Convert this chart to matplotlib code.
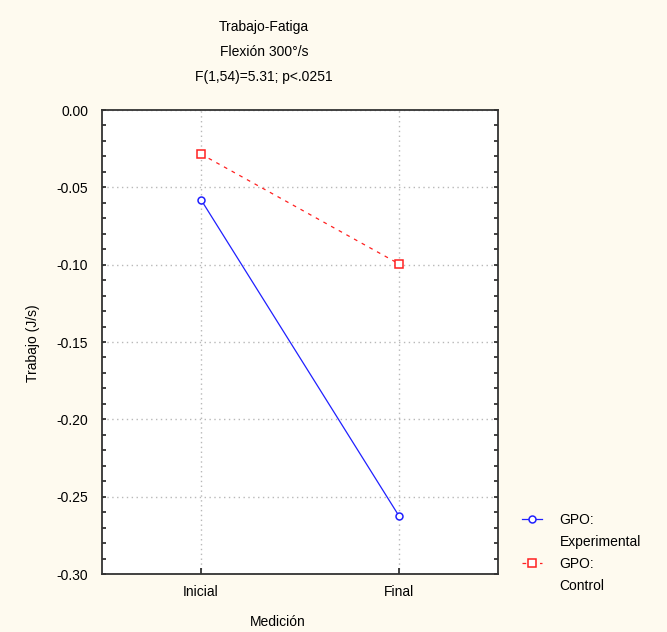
import numpy as np
import matplotlib.pyplot as plt
from matplotlib.ticker import MultipleLocator
from matplotlib.lines import Line2D

plt.rcParams['font.family'] = ['Liberation Sans', 'DejaVu Sans']

# Data
mediciones = ['Inicial', 'Final']
experimental = [-0.058, -0.2625]
control = [-0.0285, -0.0995]
grupos = ['Experimental', 'Control']

bg = '#fefaef'
fig = plt.figure(figsize=(6.67, 6.32), dpi=100, facecolor=bg)
ax = fig.add_axes([102/667, 1 - 574/632, 396/667, 464/632])
ax.set_facecolor('white')

x = np.arange(len(mediciones))
l1, = ax.plot(x, experimental, color='#2020ff', lw=0.9, marker='o', ms=5,
              mfc='white', mec='#2020ff', mew=1.1, zorder=3)
l2, = ax.plot(x, control, color='#ff2020', lw=0.9, ls=(0, (3, 4)), marker='s', ms=5.5,
              mfc='white', mec='#ff2020', mew=1.1, zorder=3)

ax.set_xlim(-0.5, 1.5)
ax.set_ylim(-0.30, 0.0)
ax.set_xticks(x)
ax.set_xticklabels(mediciones, fontsize=10)
ax.yaxis.set_major_locator(MultipleLocator(0.05))
ax.yaxis.set_minor_locator(MultipleLocator(0.01))
ax.set_yticklabels(['%.2f' % v for v in ax.get_yticks()], fontsize=10)
ax.tick_params(axis='both', which='both', direction='in', color='#222222')
ax.tick_params(axis='y', which='both', right=True, length=3, width=1.2, pad=10)
ax.tick_params(axis='x', length=4, width=1.2, pad=8)
ax.grid(True, which='major', color='#b8b8b8', ls=(0, (1, 2.5)), lw=1)
for s in ax.spines.values():
    s.set_color('#333333')
    s.set_linewidth(1.3)

fig.text(264/667, 1 - 27/632, 'Trabajo-Fatiga', ha='center', va='center', fontsize=10)
fig.text(264/667, 1 - 52/632, 'Flexión 300°/s', ha='center', va='center', fontsize=10)
fig.text(264/667, 1 - 77/632, 'F(1,54)=5.31; p<.0251', ha='center', va='center', fontsize=10)
fig.text(278/667, 1 - 622/632, 'Medición', ha='center', va='center', fontsize=10)
fig.text(33/667, 1 - 343/632, 'Trabajo (J/s)', ha='center', va='center',
         rotation=90, fontsize=10)

# legend: handle sits on the "GPO:" line, group name on the line below
blank = Line2D([], [], lw=0, alpha=0)
handles = [l1, blank, l2, blank]
labels = ['GPO:', grupos[0], 'GPO:', grupos[1]]
fig.legend(handles, labels, loc='upper left', bbox_to_anchor=(509/667, 1 - 500/632),
           frameon=False, fontsize=10, handlelength=1.45, handletextpad=1.3,
           labelspacing=0.6)

fig.savefig('out.png', dpi=100, facecolor=bg)
